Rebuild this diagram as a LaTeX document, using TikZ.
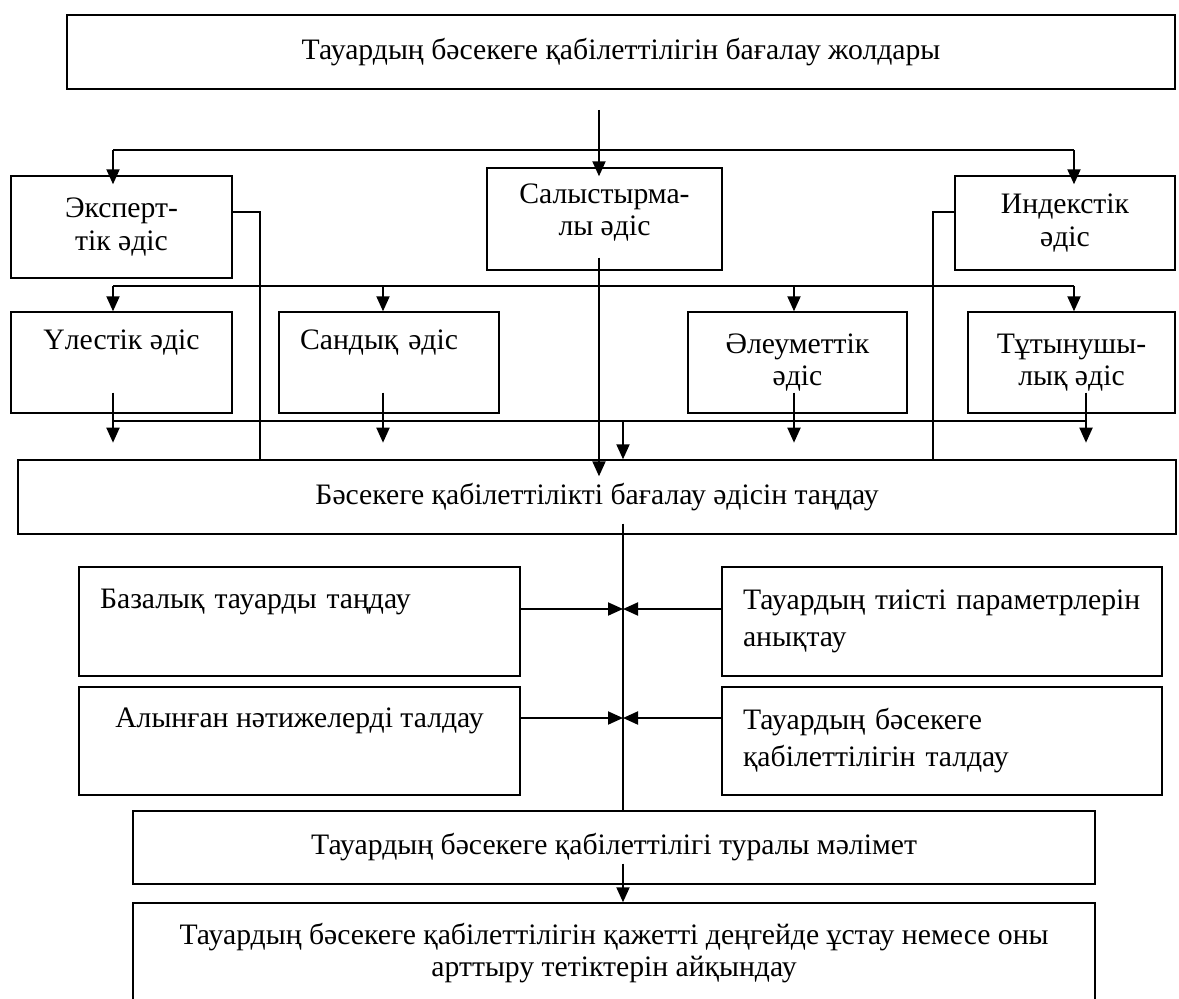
\documentclass[tikz,border=0pt]{standalone}
\usepackage{fontspec}
\setmainfont{Liberation Serif}
\usetikzlibrary{arrows.meta, positioning, calc}

\begin{document}
\begin{tikzpicture}[
  x=0.02cm, y=-0.02cm,
  >={Triangle[length=3mm, width=2.6mm]},
  box/.style={draw, line width=0.8pt, inner sep=0pt, align=center,
              font=\fontsize{16.9}{18.5}\selectfont},
  lbox/.style={box, align=left, font=\fontsize{16.9}{21}\selectfont},
  uptext/.style={text height=11pt, text depth=26pt},
  arr/.style={->, line width=1.1pt},
  ln/.style={line width=1.1pt},
  into/.style={shorten >=-0.18cm},
]
\useasboundingbox (0,0) rectangle (1179,999);
\clip (0,0) rectangle (1179,999);
% boxes
\node[box, minimum width=22.16cm, minimum height=1.48cm] (a) at (621,52) {Тауардың бәсекеге қабілеттілігін бағалау жолдары};
\node[box, minimum width=4.42cm, minimum height=2.04cm] (b) at (121.5,227) {Эксперт-\\тік әдіс};
\node[box, text height=30pt, text depth=10.7pt, minimum width=4.70cm, minimum height=2.04cm] (c) at (604.5,219) {Салыстырма-\\лы әдіс};
\node[box, minimum width=4.40cm, minimum height=1.88cm] (d) at (1065,223) {Индекстік\\әдіс};
\node[box, uptext, minimum width=4.42cm, minimum height=2.02cm] (e) at (121.5,362.5) {Үлестік әдіс};
\node[lbox, uptext, text width=3.56cm, minimum width=4.40cm, minimum height=2.02cm] (f) at (389,362.5) {Сандық әдіс};
\node[box, minimum width=4.38cm, minimum height=2.02cm] (g) at (797.5,362.5) {Әлеуметтік\\әдіс};
\node[box, minimum width=4.14cm, minimum height=2.02cm] (h) at (1071.5,362.5) {Тұтынушы-\\лық әдіс};
\node[box, minimum width=23.16cm, minimum height=1.48cm] (i) at (597,497) {Бәсекеге қабілеттілікті бағалау әдісін таңдау};
\node[lbox, uptext, text width=7.98cm, minimum width=8.82cm, minimum height=2.18cm] (j) at (299.5,621.5) {Базалық тауарды таңдау};
\node[lbox, text width=7.96cm, minimum width=8.80cm, minimum height=2.18cm] (k) at (942,621.5) {Тауардың тиісті параметрлерін\\анықтау};
\node[box, uptext, minimum width=8.82cm, minimum height=2.16cm] (l) at (299.5,741) {Алынған нәтижелерді талдау};
\node[lbox, text width=7.96cm, minimum width=8.80cm, minimum height=2.16cm] (m) at (942,741) {Тауардың бәсекеге\\қабілеттілігін талдау};
\node[box, minimum width=19.24cm, minimum height=1.46cm] (n) at (614,847.5) {Тауардың бәсекеге қабілеттілігі туралы мәлімет};
\node[box, minimum width=19.24cm, minimum height=2.0cm] (o) at (614,953) {Тауардың бәсекеге қабілеттілігін қажетті деңгейде ұстау немесе оны\\арттыру тетіктерін айқындау};

% top fork
\coordinate (t1) at (599,110);
\coordinate (bl) at (113,150);
\coordinate (br) at (1074,150);
\draw[ln] (bl) -- (br);
\draw[arr,into] (t1) -- (t1 |- c.north);
\draw[arr,into] (bl) -- (bl |- b.north);
\draw[arr,into] (br) -- (br |- d.north);

% side lines of the outer methods
\coordinate (ex) at (260,212);
\coordinate (ix) at (933,212);
\draw[ln] (b.east |- ex) -| (ex |- i.north);
\draw[ln] (d.west |- ix) -| (ix |- i.north);

% second row: fork and collector
\coordinate (dl) at (113,286);
\coordinate (dr) at (1074,286);
\coordinate (cl) at (113,421);
\coordinate (cr) at (1086,421);
\coordinate (v) at (623,0);
\draw[ln] (dl) -- (dr);
\draw[ln] (cl) -- (cr);
\foreach \n/\x in {e/113, f/383, g/794, h/1074}
  \draw[arr] (\x,286) -- (\n.north -| \x,0);
\foreach \n/\x in {e/113, f/383, g/794, h/1086}
  \draw[arr, shorten <=-0.42cm] (\n.south -| \x,0) -- ++(0,29);
\draw[arr] (cl -| v) -- (v |- i.north);
\draw[arr, shorten <=-0.26cm, shorten >=-0.34cm] (t1 |- c.south) -- (t1 |- i.north);

% spine
\draw[ln, shorten <=-0.22cm] (v |- i.south) -- (v |- n.north);
\foreach \p/\q/\s in {j/k/0.25, l/m/0.46} {
  \coordinate (pl) at ([yshift=\s cm]\p.east);
  \coordinate (pr) at ([yshift=\s cm]\q.west);
  \draw[arr] (pl) -- (pl -| v);
  \draw[arr] (pr) -- (pr -| v);
}
\draw[arr, shorten <=-0.42cm] (v |- n.south) -- (v |- o.north);
\end{tikzpicture}
\end{document}
